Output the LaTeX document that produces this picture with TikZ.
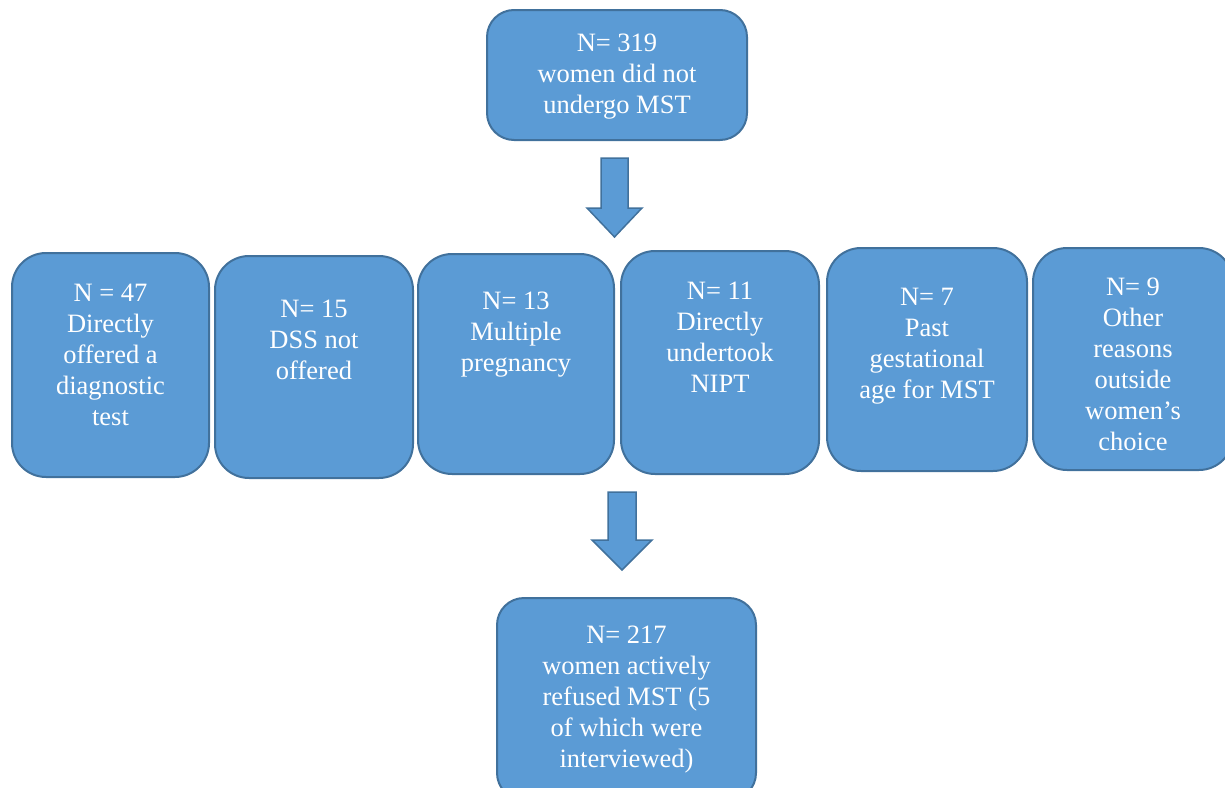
\documentclass[tikz,border=0pt]{standalone}
\usepackage{fontspec}
\setmainfont{Liberation Serif}
\definecolor{boxfill}{HTML}{5B9BD5}
\definecolor{boxline}{HTML}{41719C}
\begin{document}
\begin{tikzpicture}[x=1pt,y=-1pt,
  box/.style={draw=boxline,fill=boxfill,line width=2pt,rounded corners=34pt,inner sep=0pt,outer sep=0pt},
  wide/.style={rounded corners=27pt},
  lbl/.style={text=white,align=center,inner sep=0pt,font=\fontsize{26.5}{31}\selectfont},
  fatarrow/.style={draw=boxline,fill=boxfill,line width=1.5pt,line join=miter}]
\useasboundingbox (0,0) rectangle (1225,787);
% boxes
\node[box,wide,minimum width=260pt,minimum height=130pt] (top) at (617,75) {};
\node[box,minimum width=197pt,minimum height=224pt] (b1) at (110.5,365) {};
\node[box,minimum width=198pt,minimum height=222pt] (b2) at (314,367) {};
\node[box,minimum width=196pt,minimum height=220pt] (b3) at (516,364) {};
\node[box,minimum width=198pt,minimum height=223pt] (b4) at (720,362.5) {};
\node[box,minimum width=200pt,minimum height=223pt] (b5) at (927,359.5) {};
\node[box,minimum width=200pt,minimum height=222pt] (b6) at (1133,359) {};
\node[box,wide,minimum width=259pt,minimum height=202pt] (bot) at (626.5,699) {};
% texts
\node[lbl] (ttop) at (617,77) {N= 319\\women did not\\undergo MST};
\node[lbl] (t1) at (110.5,355) {N = 47\\Directly\\offered a\\diagnostic\\test};
\node[lbl] (t2) at (314,340) {N= 15\\DSS not\\offered};
\node[lbl] (t3) at (516,335) {N= 13\\Multiple\\pregnancy};
\node[lbl] (t4) at (720,337) {N= 11\\Directly\\undertook\\NIPT};
\node[lbl] (t5) at (927,346) {N= 7\\Past\\gestational\\age for MST};
\node[lbl] (t6) at (1133,364) {N= 9\\Other\\reasons\\outside\\women’s\\choice};
\node[lbl] (tbot) at (626.5,700) {N= 217\\women actively\\refused MST (5\\of which were\\interviewed)};
% block arrows
\coordinate (a1s) at (614.5,158);
\coordinate (a1t) at (614.5,237);
\draw[fatarrow] ([xshift=-13.5pt]a1s) -- ([xshift=13.5pt]a1s) -- ([xshift=13.5pt,yshift=-50pt]a1s)
  -- ([xshift=27.5pt,yshift=-50pt]a1s) -- (a1t) -- ([xshift=-27.5pt,yshift=-50pt]a1s)
  -- ([xshift=-13.5pt,yshift=-50pt]a1s) -- cycle;
\coordinate (a2s) at (622,492);
\coordinate (a2t) at (622,570);
\draw[fatarrow] ([xshift=-14pt]a2s) -- ([xshift=14pt]a2s) -- ([xshift=14pt,yshift=-48pt]a2s)
  -- ([xshift=30pt,yshift=-48pt]a2s) -- (a2t) -- ([xshift=-30pt,yshift=-48pt]a2s)
  -- ([xshift=-14pt,yshift=-48pt]a2s) -- cycle;
\end{tikzpicture}
\end{document}
